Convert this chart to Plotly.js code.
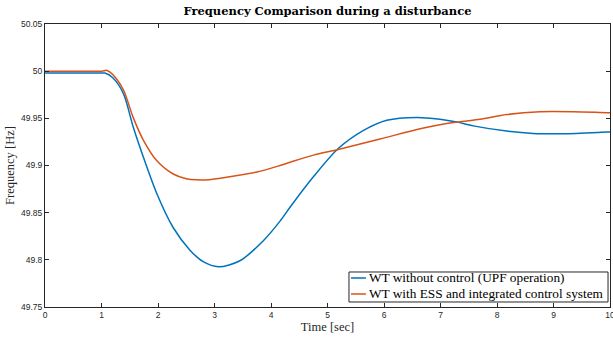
<!DOCTYPE html>
<html>
<head>
<meta charset="utf-8">
<script src="https://cdn.plot.ly/plotly-3.0.1.min.js"></script>
<style>html,body{margin:0;padding:0;background:#fff;}#chart{width:613px;height:339px;}</style>
</head>
<body>
<div id="chart"></div>
<script>
const tBlue = [0, 0.5, 1.0, 1.06, 1.2, 1.39, 1.56, 1.74, 1.98, 2.27, 2.57, 2.8, 3.07, 3.45, 3.86, 4.16, 4.34, 4.75, 5.19, 5.63, 6.05, 6.58, 6.99, 7.29, 7.58, 8.17, 8.64, 9.17, 9.94, 10];
const fBlue = [49.998, 49.998, 49.998, 49.998, 49.993, 49.976, 49.941, 49.909, 49.870, 49.834, 49.810, 49.798, 49.7926, 49.799, 49.820, 49.841, 49.856, 49.888, 49.918, 49.937, 49.948, 49.951, 49.949, 49.946, 49.942, 49.9365, 49.934, 49.9337, 49.9354, 49.9355];
const tOrange = [0, 0.5, 1.0, 1.05, 1.08, 1.15, 1.25, 1.39, 1.56, 1.74, 1.98, 2.27, 2.5, 2.68, 2.9, 3.16, 3.75, 4.16, 4.34, 4.75, 5.19, 5.93, 6.64, 7.29, 7.70, 8.17, 8.76, 9.35, 9.94, 10];
const fOrange = [50.0, 50.0, 50.0, 50.0005, 50.001, 49.999, 49.993, 49.980, 49.951, 49.927, 49.905, 49.891, 49.886, 49.8848, 49.885, 49.887, 49.893, 49.900, 49.9035, 49.911, 49.917, 49.928, 49.939, 49.946, 49.949, 49.954, 49.957, 49.957, 49.956, 49.956];
const seriesNames = ["WT without control (UPF operation)", "WT with ESS and integrated control system"];
const seriesColors = ['#0072BD', '#D95319'];

const traces = [
  {x: tBlue, y: fBlue, mode: 'lines', name: seriesNames[0], line: {color: seriesColors[0], width: 1.5, shape: 'spline', smoothing: 0.8}},
  {x: tOrange, y: fOrange, mode: 'lines', name: seriesNames[1], line: {color: seriesColors[1], width: 1.5, shape: 'spline', smoothing: 0.8}}
];
const serif = 'Liberation Serif, Times New Roman, serif';
const axisCommon = {
  showline: true, mirror: 'ticks', linecolor: '#262626', linewidth: 1,
  ticks: 'inside', ticklen: 4, tickcolor: '#262626', showgrid: false, zeroline: false,
  ticklabeloverflow: 'allow',
  tickfont: {family: 'Liberation Sans, Arial, sans-serif', size: 8.5, color: '#262626'}
};

// custom legend box (paper coords of the plot area)
const legRows = [0.1025, 0.046];
const legShapes = [
  {type: 'rect', xref: 'paper', yref: 'paper', x0: 0.538, x1: 0.9965, y0: 0.0177, y1: 0.1237, line: {color: '#262626', width: 1}, fillcolor: '#fff', layer: 'above'}
];
const legAnn = [];
seriesNames.forEach((n, i) => {
  legShapes.push({type: 'line', xref: 'paper', yref: 'paper', x0: 0.5416, x1: 0.568, y0: legRows[i], y1: legRows[i], line: {color: seriesColors[i], width: 1.5}, layer: 'above'});
  legAnn.push({xref: 'paper', yref: 'paper', x: 0.5705, y: legRows[i], xanchor: 'left', yanchor: 'middle', showarrow: false, text: n, font: {family: serif, size: 13.3, color: '#000'}});
});

const layout = {
  width: 613, height: 339,
  margin: {l: 45, r: 3, t: 24, b: 32},
  paper_bgcolor: '#fff', plot_bgcolor: '#fff',
  title: {text: '<b>Frequency Comparison during a disturbance</b>', font: {family: 'DejaVu Serif, serif', size: 11.5, color: '#000'}, x: 0.5, xref: 'paper', xanchor: 'center', y: 0.967, yanchor: 'middle'},
  xaxis: Object.assign({}, axisCommon, {range: [0, 10], dtick: 1, tick0: 0, title: {text: 'Time [sec]', font: {family: serif, size: 12.5, color: '#262626'}, standoff: 3}}),
  yaxis: Object.assign({}, axisCommon, {range: [49.75, 50.05], dtick: 0.05, tick0: 49.75, title: {text: 'Frequency [Hz]', font: {family: serif, size: 12.5, color: '#262626'}, standoff: 3}}),
  showlegend: false,
  shapes: legShapes,
  annotations: legAnn
};
Plotly.newPlot('chart', traces, layout, {staticPlot: true, displayModeBar: false});
</script>
</body>
</html>
